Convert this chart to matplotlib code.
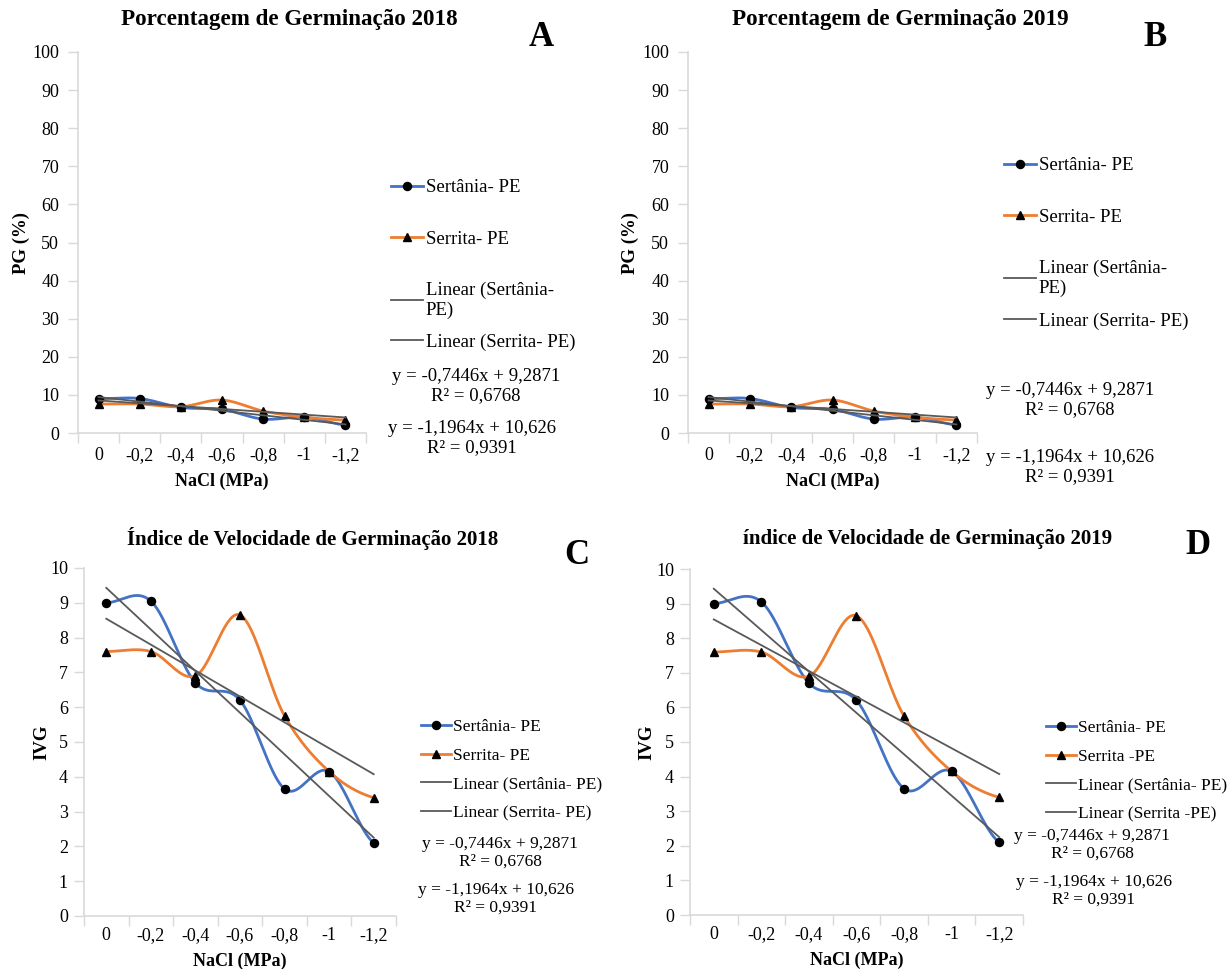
import numpy as np
import matplotlib
matplotlib.use("Agg")
import matplotlib.pyplot as plt

plt.rcParams['font.family'] = ['Liberation Serif', 'DejaVu Serif']

# data
nacl = ['0', '-0,2', '-0,4', '-0,6', '-0,8', '-1', '-1,2']
sertania = [9.0, 9.05, 6.7, 6.2, 3.65, 4.15, 2.1]
serrita = [7.6, 7.6, 6.9, 8.65, 5.75, 4.15, 3.4]

# trendline equations shown on the chart
trend_serrita = (-0.7446, 9.2871, 0.6768)
trend_sertania = (-1.1964, 10.626, 0.9391)

BLUE = '#4472C4'
ORANGE = '#ED7D31'
TREND = '#595959'
AXIS = '#D9D9D9'

W, H = 1231, 969


def fx(px):
    return px / W


def fy(py):
    return 1 - py / H


def smooth(y, n=40):
    # Catmull-Rom style smoothing, like Excel's "smoothed line"
    y = np.asarray(y, float)
    p = np.concatenate([[y[0]], y, [y[-1]]])
    xs, ys = [], []
    for i in range(len(y) - 1):
        p0, p1, p2, p3 = p[i], p[i + 1], p[i + 2], p[i + 3]
        m1 = (p2 - p0) / 2
        m2 = (p3 - p1) / 2
        t = np.linspace(0, 1, n, endpoint=(i == len(y) - 2))
        h00 = 2 * t**3 - 3 * t**2 + 1
        h10 = t**3 - 2 * t**2 + t
        h01 = -2 * t**3 + 3 * t**2
        h11 = t**3 - t**2
        xs.append(i + 1 + t)
        ys.append(h00 * p1 + h10 * m1 + h01 * p2 + h11 * m2)
    return np.concatenate(xs), np.concatenate(ys)


def eq_text(tr):
    a, b, r2 = tr
    s = lambda v: f'{v:g}'.replace('.', ',')
    return f'y = {s(a)}x + {s(b)}\nR² = {s(r2)}'


fig = plt.figure(figsize=(W / 100, H / 100), dpi=100)


def panel(rect, ymax, ystep, ylabel, title, title_xy, title_fs, letter, letter_xy,
          labels, legend_xy, split_legend, leg_fs, eq_pos, eq_fs, eq_ls,
          ylab_x, ytick_pad, xtick_pad):
    left, right, top, bottom = rect
    ax = fig.add_axes([fx(left), fy(bottom), fx(right - left), (bottom - top) / H])
    x = np.arange(1, len(nacl) + 1)

    bx, by = smooth(sertania)
    ox, oy = smooth(serrita)
    ax.plot(bx, by, color=BLUE, lw=2)
    ax.plot(ox, oy, color=ORANGE, lw=2)
    ax.plot(x, sertania, 'o', color='black', ms=5.8)
    ax.plot(x, serrita, '^', color='black', ms=5.6)
    xt = np.array([1, 7])
    t1, = ax.plot(xt, trend_sertania[0] * xt + trend_sertania[1], color=TREND, lw=1.3)
    t2, = ax.plot(xt, trend_serrita[0] * xt + trend_serrita[1], color=TREND, lw=1.3)

    ax.set_xlim(0.5, len(nacl) + 0.5)
    ax.set_ylim(0, ymax)
    ax.set_yticks(np.arange(0, ymax + ystep / 2, ystep))
    ax.set_xticks(x)
    ax.set_xticklabels(nacl)
    ax.set_xticks(np.arange(0.5, len(nacl) + 1), minor=True)
    ax.tick_params(axis='x', which='major', length=0, pad=xtick_pad, labelsize=13)
    ax.tick_params(axis='x', which='minor', length=7, color=AXIS, width=1)
    ax.tick_params(axis='y', length=7, color=AXIS, width=1, pad=ytick_pad, labelsize=13)
    for sp in ['top', 'right']:
        ax.spines[sp].set_visible(False)
    for sp in ['left', 'bottom']:
        ax.spines[sp].set_color(AXIS)
        ax.spines[sp].set_linewidth(1.2)
    ax.set_xlabel('NaCl (MPa)', fontsize=13, fontweight='bold')
    ax.xaxis.set_label_coords(0.5, -0.105)
    ax.set_ylabel(ylabel, fontsize=13.5, fontweight='bold')
    ax.yaxis.set_label_coords((ylab_x + 10 - left) / (right - left), 0.5)

    fig.text(fx(title_xy[0]), fy(title_xy[1]), title, ha='center', va='center',
             fontsize=title_fs, fontweight='bold')
    fig.text(fx(letter_xy[0]), fy(letter_xy[1]), letter, ha='center', va='center',
             fontsize=25, fontweight='bold')

    h1 = plt.Line2D([], [], color=BLUE, lw=2, marker='o', mfc='black', mec='black', ms=5.8)
    h2 = plt.Line2D([], [], color=ORANGE, lw=2, marker='^', mfc='black', mec='black', ms=5.6)
    opts = dict(loc='upper left', frameon=False, borderpad=0, borderaxespad=0,
                handlelength=1.7, handletextpad=0.15, numpoints=1, fontsize=leg_fs)
    lx, ly = legend_xy
    half = 0.465 * leg_fs * 100 / 72
    if split_legend:
        fig.legend([h1, h2, t1], labels[:3], bbox_to_anchor=(fx(lx), fy(ly - half)),
                   labelspacing=1.82, **opts)
        fig.legend([t2], labels[3:], bbox_to_anchor=(fx(lx), fy(split_legend - half)), **opts)
    else:
        fig.legend([h1, h2, t1, t2], labels, bbox_to_anchor=(fx(lx), fy(ly - half)),
                   labelspacing=0.72, **opts)

    for tr, (ex, ey) in zip([trend_serrita, trend_sertania], eq_pos):
        fig.text(fx(ex), fy(ey), eq_text(tr), ha='center', va='center',
                 multialignment='center', fontsize=eq_fs, linespacing=eq_ls)
    return ax


labels_top = ['Sertânia- PE', 'Serrita- PE', 'Linear (Sertânia-\nPE)', 'Linear (Serrita- PE)']
labels_c = ['Sertânia- PE', 'Serrita- PE', 'Linear (Sertânia- PE)', 'Linear (Serrita- PE)']
labels_d = ['Sertânia- PE', 'Serrita -PE', 'Linear (Sertânia- PE)', 'Linear (Serrita -PE)']

panel((78, 366, 52, 433), 100, 10, 'PG (%)', 'Porcentagem de Germinação 2018', (289, 20), 16.6,
      'A', (541, 37), labels_top, (391, 188), 342, 13.5,
      [(476, 386), (472, 438)], 13.5, 1.2, 20, 6.5, 10)
panel((688, 977, 52, 433), 100, 10, 'PG (%)', 'Porcentagem de Germinação 2019', (900, 20), 16.6,
      'B', (1155, 37), labels_top, (1004, 166), 321, 13.5,
      [(1070, 400), (1070, 467)], 13.5, 1.2, 629, 6.5, 10)
panel((84, 396, 568, 916), 10, 1, 'IVG', 'Índice de Velocidade de Germinação 2018', (313, 538), 15,
      'C', (577, 555), labels_c, (421, 727), None, 12.5,
      [(500, 853), (496, 899)], 12.5, 1.15, 40, 4.5, 8)
panel((690, 1023, 569, 915), 10, 1, 'IVG', 'índice de Velocidade de Germinação 2019', (928, 539), 15,
      'D', (1198, 545), labels_d, (1046, 728), None, 12.5,
      [(1092, 845), (1094, 891)], 12.5, 1.15, 645, 4.5, 8)

fig.savefig('out.png', dpi=100)
